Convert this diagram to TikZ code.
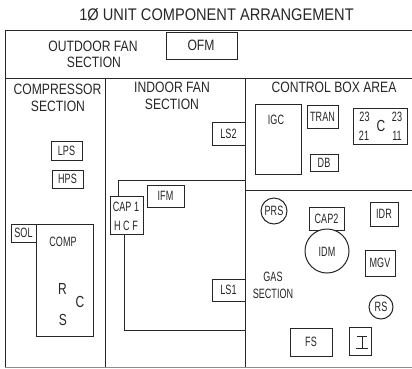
\documentclass[tikz,border=0pt]{standalone}
\usepackage{fontspec}
\setmainfont{Liberation Sans}
\begin{document}
\begin{tikzpicture}[x=1pt,y=-1pt,
  wire/.style={line width=1pt,draw=black!85},
  box/.style={wire,fill=white},
  lab/.style={font=\fontsize{15}{16}\selectfont,xscale=0.81,inner sep=0pt,align=center,text=black!85},
  small/.style={font=\fontsize{13.5}{15}\selectfont,xscale=0.67,inner sep=0pt,align=center,text=black!85},
  big/.style={font=\fontsize{16}{18}\selectfont,xscale=0.75,inner sep=0pt,text=black!85}]
\useasboundingbox (0,0) rectangle (412,368);
\node[font=\fontsize{16.8}{18}\selectfont,xscale=0.87,inner sep=0pt,text=black!85] (title) at (216.5,15) {1Ø UNIT COMPONENT ARRANGEMENT};
\coordinate (tl) at (5,30); \coordinate (tr) at (412,30);
\coordinate (bl) at (5,367); \coordinate (br) at (412,367);
\coordinate (ml) at (5,78); \coordinate (mr) at (412,78);
\coordinate (a1) at (105,78); \coordinate (a2) at (105,367);
\coordinate (b1) at (245,78); \coordinate (b2) at (245,367);
\coordinate (c2) at (412,190.5); \coordinate (c1) at (245,190.5);
\coordinate (d1) at (118,180); \coordinate (d2) at (245,180);
\coordinate (e1) at (124,330.5); \coordinate (e2) at (245,330.5);
\draw[wire] (bl) -- (tl) -- (tr);
\draw[wire,draw=black!45] (bl) -- (br);
\draw[wire] (ml) -- (mr) (a1) -- (a2) (b1) -- (b2) (c1) -- (c2);
\draw[wire] (118,196) -- (d1) -- (d2);
\draw[wire] (124,234) -- (e1) -- (e2);
% text
\node[lab] (t1) at (93,46) {OUTDOOR FAN};
\node[lab] (t1b) at (94,62) {SECTION};
\node[lab] (t2) at (57.5,89.5) {COMPRESSOR};
\node[lab] (t2b) at (58,106.5) {SECTION};
\node[lab] (t3) at (172,87.5) {INDOOR FAN};
\node[lab] (t3b) at (172,104) {SECTION};
\node[lab] (t4) at (334,87) {CONTROL BOX AREA};
\node[small] (t5) at (273,277) {GAS};
\node[small] (t5b) at (273,294) {SECTION};
% boxes
\draw[box] (166,32) rectangle (237,59);
\node[lab] (ofm) at (201,45.5) {OFM};
\newcommand{\bx}[6]{\draw[box] (#1,#2) rectangle (#3,#4); \node[small] (#6) at ({(#1+#3)/2},{(#2+#4)/2}) {#5};}
\bx{51}{141}{82}{160}{LPS}{lps}
\bx{52}{170}{83}{188}{HPS}{hps}
\bx{212}{122}{245}{145}{LS2}{lstwo}
\bx{147}{185}{184}{207}{IFM}{ifm}
\bx{110}{196}{143}{234}{}{capone}
\node[small] at (126,207) {CAP 1};
\node[small] at (126,226) {H C F};
\bx{11}{224}{36}{242}{SOL}{sol}
\bx{36}{224}{93}{336}{}{comp}
\node[small] at (63,242) {COMP};
\node[big] at (62.5,289) {R};
\node[big] at (80,302) {C};
\node[big] at (63,320) {S};
\bx{212}{279}{245}{301}{LS1}{lsone}
\bx{255}{104}{301}{174}{}{igc}
\node[small] at (276,120) {IGC};
\bx{307}{105}{338}{128}{TRAN}{tran}
\bx{310}{154}{338}{171}{DB}{db}
\bx{353}{108}{407}{144}{}{cbox}
\node[small] at (364.5,117) {23};
\node[small] at (364,136) {21};
\node[small] at (397,117) {23};
\node[small] at (397,136) {11};
\node[big] at (381,126) {C};
\bx{309}{207}{344}{230}{CAP2}{captwo}
\draw[box] (327,251) circle (22); \node[small] (idm) at (327,252) {IDM};
\draw[box] (274,211) circle (13); \node[small] (prs) at (274,211) {PRS};
\bx{370}{202}{398}{226}{IDR}{idr}
\bx{365}{250}{395}{276}{MGV}{mgv}
\draw[box] (381,307) circle (12); \node[small] (rs) at (381,307) {RS};
\bx{290}{328}{332}{356}{FS}{fs}
\draw[box] (349,327) rectangle (371,355);
\draw[wire] (362,336) -- (362,348) (357,336) -- (367,336) (356,348) -- (368,348);
\end{tikzpicture}
\end{document}
